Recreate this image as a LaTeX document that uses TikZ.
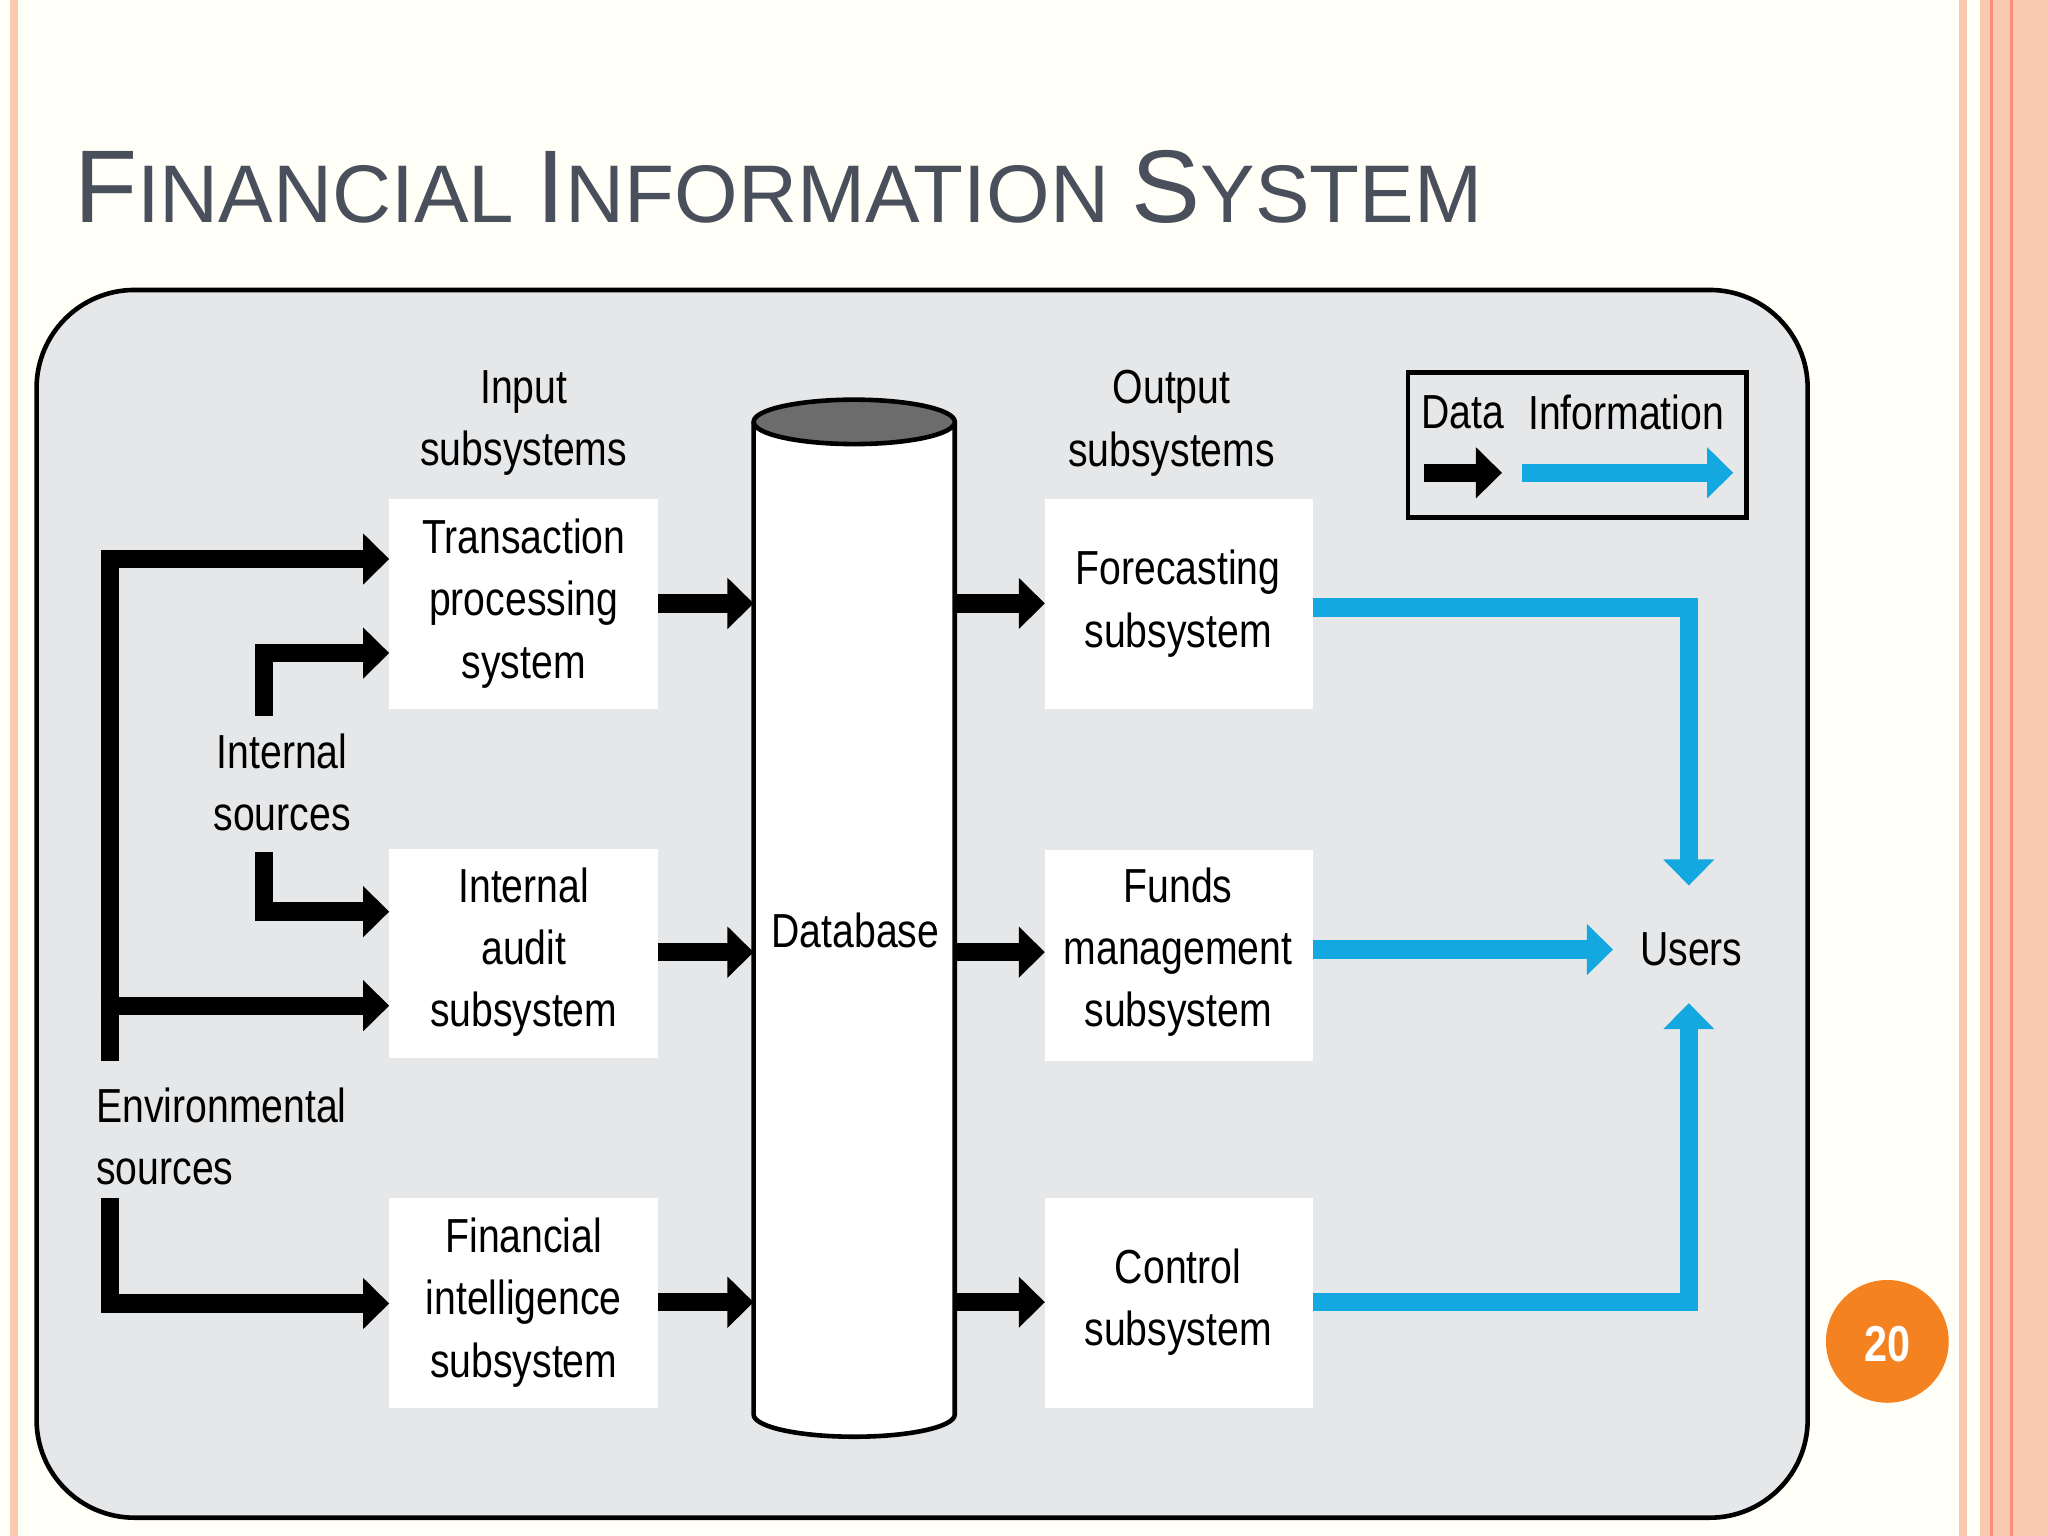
\documentclass[tikz,border=0pt]{standalone}
\usepackage{fontspec}
\setmainfont{Liberation Sans}[FakeStretch=0.82]
\newfontfamily\titlefont{Liberation Sans}
\usetikzlibrary{arrows.meta,shapes.geometric}
\definecolor{panel}{HTML}{E6E7E9}
\definecolor{infoblue}{HTML}{14A8E0}
\definecolor{stripe}{HTML}{F9C9B0}
\definecolor{titlegray}{HTML}{4A4F5C}
\definecolor{pgorange}{HTML}{F58220}
\tikzset{
 x=0.01cm,y=-0.01cm,
 wbox/.style={fill=white,draw=none},
 lbl/.style={font=\fontsize{10.4}{13.6}\selectfont,align=center,inner sep=0pt},
 dat/.style={line width=4pt,-{Triangle[length=0.2cm,width=0.38cm]}},
 inf/.style={line width=4pt,infoblue,-{Triangle[length=0.2cm,width=0.38cm]}},
}
\begin{document}
\begin{tikzpicture}
\useasboundingbox (0,0) rectangle (1568,1176);
\fill[white!97!yellow] (0,0) rectangle (1568,1176);
\fill[stripe] (1500,0) rectangle (1568,1176);
\fill[white!97!yellow] (1506,0) rectangle (1516,1176);
\draw[stripe!70!red,line width=0.6pt] (1525,0)--(1525,1176) (1540,0)--(1540,1176);
\fill[stripe] (8,0) rectangle (14,1176);
% title
\node[anchor=base west,inner sep=0pt,text=titlegray] (title) at (56,170)
 {\titlefont\fontsize{22.5}{22.5}\selectfont F\fontsize{17.8}{17.8}\selectfont INANCIAL \fontsize{22.5}{22.5}\selectfont I\fontsize{17.8}{17.8}\selectfont NFORMATION \fontsize{22.5}{22.5}\selectfont S\fontsize{17.8}{17.8}\selectfont YSTEM};
% panel
\draw[fill=panel,line width=1pt,rounded corners=0.75cm] (28,222) rectangle (1384,1162);
% boxes
\fill[wbox] (298,382) rectangle (504,543); \node[lbl] (tps) at (401,462) {Transaction\\processing\\system};
\fill[wbox] (298,650) rectangle (504,810); \node[lbl] (ia) at (401,729) {Internal\\audit\\subsystem};
\fill[wbox] (298,917) rectangle (504,1078); \node[lbl] (fi) at (401,997) {Financial\\intelligence\\subsystem};
\fill[wbox] (800,382) rectangle (1005,543); \node[lbl] (fc) at (902,462) {Forecasting\\subsystem};
\fill[wbox] (800,651) rectangle (1005,812); \node[lbl] (fm) at (902,729) {Funds\\management\\subsystem};
\fill[wbox] (800,917) rectangle (1005,1078); \node[lbl] (cs) at (902,997) {Control\\subsystem};
% database
\draw[fill=white,line width=1pt] (577,323) -- (577,1083) arc[start angle=180,end angle=0,x radius=77,y radius=17] -- (731,323);
\draw[fill=gray!85!black,line width=1pt] (654,323) ellipse [x radius=77,y radius=17];
\node[lbl] (db) at (655,712) {Database};
% labels
\node[lbl] (inp) at (401,324) {Input\\subsystems};
\node[lbl] (outp) at (897,324) {Output\\subsystems};
\node[lbl] (ints) at (216,599) {Internal\\sources};
\node[lbl,align=left,anchor=west] (envs) at (73,870) {Environmental\\sources};
\node[lbl] (users) at (1295,727) {Users};
% legend
\draw[line width=1pt] (1078,285) rectangle (1337,396);
\node[lbl] (ld) at (1120,316) {Data};
\node[lbl] (li) at (1245,316) {Information};
\draw[dat] (1090,362) -- (1150,362);
\draw[inf] (1165,362) -- (1327,362);
% black arrows
\draw[dat] (84,812) -- (84,428) -- (298,428);
\draw[dat] (77,770) -- (298,770);
\draw[dat] (84,917) -- (84,998) -- (298,998);
\draw[dat] (202,548) -- (202,500) -- (298,500);
\draw[dat] (202,652) -- (202,698) -- (298,698);
\draw[dat] (504,462) -- (577,462);
\draw[dat] (504,729) -- (577,729);
\draw[dat] (504,997) -- (577,997);
\draw[dat] (731,462) -- (800,462);
\draw[dat] (731,729) -- (800,729);
\draw[dat] (731,997) -- (800,997);
% blue
\draw[inf] (1005,465) -- (1293,465) -- (1293,678);
\draw[inf] (1005,727) -- (1235,727);
\draw[inf] (1005,997) -- (1293,997) -- (1293,768);
% page number
\fill[pgorange] (1445,1027) circle (47);
\node[text=white,font=\bfseries\fontsize{11}{11}\selectfont] (pg) at (1445,1029) {20};
\end{tikzpicture}
\end{document}
